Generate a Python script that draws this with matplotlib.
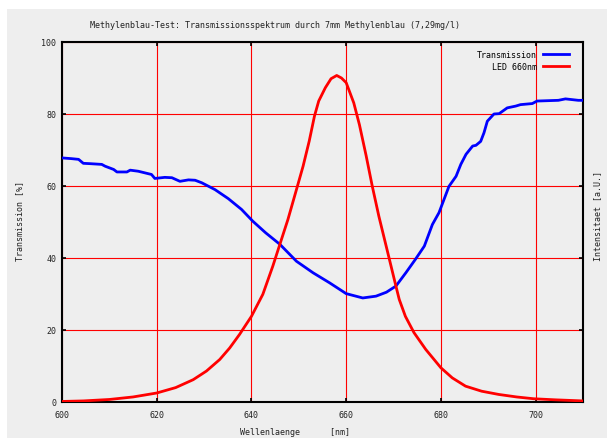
import matplotlib.pyplot as plt
from matplotlib.patches import Rectangle

# Transmission through methylene blue
trans_nm = [600, 602, 603.5, 604.5, 606, 608.4, 609.1, 610.9, 611.6, 613.7, 614.4,
            616.1, 618.9, 619.6, 621.7, 623.2, 624.9, 626.7, 628.1, 629.5, 632.3,
            635.1, 637.9, 640.3, 643, 646, 649.5, 653, 656.5, 660, 663.5, 666.3,
            668.5, 670.5, 672.6, 674.6, 676.5, 678.2, 679.6, 681.7, 683.2, 684.2,
            685.3, 686.7, 687.4, 688.4, 689.1, 689.8, 691.2, 692.3, 694, 695.8,
            696.8, 699.3, 700.3, 704.8, 706.3, 709, 710]
trans_pct = [67.8, 67.6, 67.4, 66.3, 66.2, 66.0, 65.5, 64.6, 63.9, 63.9, 64.4,
             64.1, 63.2, 62.1, 62.4, 62.3, 61.3, 61.7, 61.6, 60.9, 59.0,
             56.5, 53.5, 50.2, 47.0, 43.8, 39.1, 35.9, 33.1, 30.1, 28.9, 29.4,
             30.5, 32.2, 35.9, 39.6, 43.3, 49.3, 52.6, 59.9, 62.7, 66.0,
             68.8, 71.1, 71.3, 72.4, 74.8, 78.0, 80.0, 80.1, 81.7, 82.2,
             82.6, 82.9, 83.6, 83.8, 84.2, 83.8, 83.8]

# LED 660nm emission spectrum
led_nm = [600, 604.5, 610, 615, 620, 624, 627.7, 630.5, 633.3, 635.4, 637.5, 640,
          642.4, 644.5, 646, 647.7, 649.5, 650.9, 652.2, 653.3, 654.2, 655.6, 656.8,
          658, 659, 660, 661.6, 662.8, 664.2, 665.5, 666.9, 669, 670.5, 671.2,
          672.5, 674.3, 676.8, 680, 682.4, 685.2, 688.6, 692.2, 696, 699.6,
          704.2, 710]
led_int = [0.15, 0.3, 0.7, 1.4, 2.5, 4.0, 6.2, 8.6, 11.8, 15.0, 18.8, 23.8,
           29.9, 37.7, 43.8, 50.7, 59, 65.5, 72.5, 79.4, 83.6, 87.3, 89.8,
           90.7, 90.0, 88.7, 83.1, 77.0, 68.5, 60, 51.6, 40.3, 32.2, 28.5,
           23.8, 19.3, 14.6, 9.5, 6.7, 4.4, 3.0, 2.1, 1.4, 0.9,
           0.6, 0.3]

x_ticks = [600, 620, 640, 660, 680, 700]
y_ticks = [0, 20, 40, 60, 80, 100]

bg = "#eeeeee"
mono = "DejaVu Sans Mono"
fs = 6

fig = plt.figure(figsize=(6.07, 4.39), dpi=100, facecolor="white")
fig.patches.append(Rectangle((7 / 607, 0), 1, 1 - 10 / 439, transform=fig.transFigure,
                             facecolor=bg, edgecolor="none", zorder=-10))

ax = fig.add_axes([62 / 607, 1 - 403 / 439, 521 / 607, 360 / 439])
ax.set_facecolor(bg)

ax.plot(trans_nm, trans_pct, color="#0000ff", lw=2, label="Transmission",
        zorder=3, solid_joinstyle="round")
ax.plot(led_nm, led_int, color="#ff0000", lw=2, label="LED 660nm",
        zorder=3, solid_joinstyle="round")

ax.set_xlim(600, 710)
ax.set_ylim(0, 100)
ax.set_xticks(x_ticks)
ax.set_yticks(y_ticks)
ax.grid(True, color="#ff0000", lw=0.8, zorder=1)
ax.set_axisbelow(True)

for s in ax.spines.values():
    s.set_linewidth(1.5)
    s.set_color("black")

ax.tick_params(direction="in", length=3, width=1.2, colors="black",
               top=True, right=True, labelsize=fs, labelcolor="#222222")
ax.tick_params(axis="x", pad=6)
ax.tick_params(axis="y", pad=4)
for lab in ax.get_xticklabels() + ax.get_yticklabels():
    lab.set_family(mono)

leg = ax.legend(loc="upper right", bbox_to_anchor=(1 - 6 / 521, 1), frameon=False,
                markerfirst=False, prop={"family": mono, "size": fs},
                handlelength=3.1, handletextpad=0.8, labelspacing=0.35,
                borderaxespad=0.55)

fig.text(275 / 607, 1 - 25 / 439,
         "Methylenblau-Test: Transmissionsspektrum durch 7mm Methylenblau (7,29mg/l)",
         ha="center", va="center", family=mono, fontsize=fs, color="#222222")
fig.text(295 / 607, 1 - 433 / 439, "Wellenlaenge      [nm]",
         ha="center", va="center", family=mono, fontsize=fs, color="#222222")
fig.text(20 / 607, 1 - 221 / 439, "Transmission [%]", rotation=90,
         ha="center", va="center", family=mono, fontsize=fs, color="#222222")
fig.text(598 / 607, 1 - 216 / 439, "Intensitaet [a.U.]", rotation=90,
         ha="center", va="center", family=mono, fontsize=fs, color="#222222")

fig.savefig("out.png", dpi=100, facecolor=fig.get_facecolor())
